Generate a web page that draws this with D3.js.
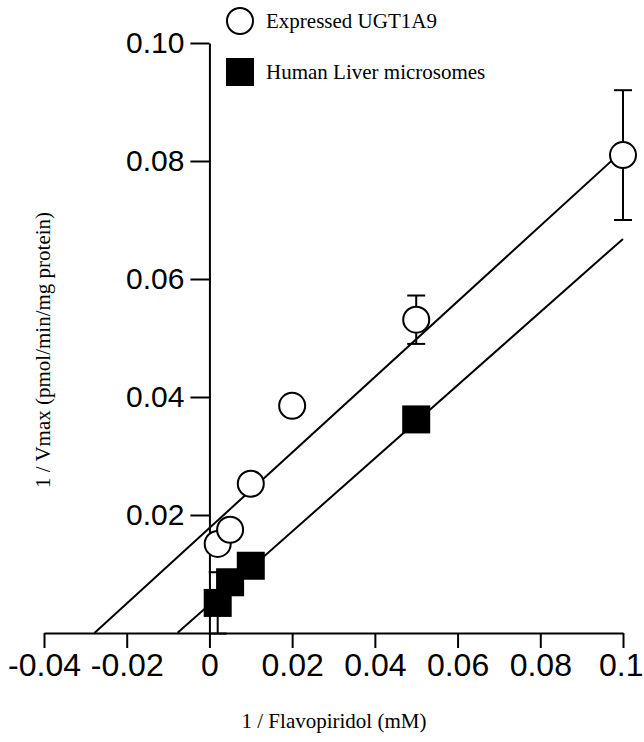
<!DOCTYPE html>
<html>
<head>
<meta charset="utf-8">
<script src="https://cdn.jsdelivr.net/npm/d3@7"></script>
<style>
  body { margin: 0; background: #fff; }
  svg { display: block; }
</style>
</head>
<body>
<div id="graph"></div>
<script>
// values
let xTicks = [-0.04, -0.02, 0, 0.02, 0.04, 0.06, 0.08, 0.1]
let xTickLabels = ['-0.04', '-0.02', '0', '0.02', '0.04', '0.06', '0.08', '0.1']
let yTicks = [0.02, 0.04, 0.06, 0.08, 0.10]
let yTickLabels = ['0.02', '0.04', '0.06', '0.08', '0.10']

// Expressed UGT1A9 (open circles)
let ugtX = [0.002, 0.005, 0.01, 0.02, 0.05, 0.1]
let ugtY = [0.0151, 0.0175, 0.0253, 0.0385, 0.0531, 0.081]
let ugtErr = [0, 0, 0, 0, 0.0041, 0.011]

// Human liver microsomes (filled squares)
let hlmX = [0.002, 0.005, 0.01, 0.05]
let hlmY = [0.0051, 0.0086, 0.0114, 0.0362]
let hlmErr = [0.0052, 0, 0, 0]

// fitted lines: [x start, x end], intercept, slope
let ugtFit = { x: [-0.0278, 0.1], b: 0.0178, m: 0.64 }
let hlmFit = { x: [-0.0077, 0.1], b: 0.0048, m: 0.62 }

let width = 644, height = 742

let svg = d3.select('#graph')
    .append('svg')
    .attr('width', width)
    .attr('height', height)

let x = d3.scaleLinear().domain([-0.04, 0.1]).range([44, 623])
let y = d3.scaleLinear().domain([0, 0.10]).range([633, 43])

let axisFont = '"Liberation Sans", Arial, sans-serif'
let serif = '"Liberation Serif", "Times New Roman", serif'

// x axis
let xAxis = svg.append('g')
    .attr('transform', `translate(0,${y(0)})`)
    .call(d3.axisBottom(x)
        .tickValues(xTicks)
        .tickFormat((d, i) => xTickLabels[i])
        .tickSize(15)
        .tickPadding(5)
        .tickSizeOuter(0))
xAxis.select('.domain').attr('stroke-width', 2)
xAxis.selectAll('.tick line').attr('stroke-width', 2)
xAxis.selectAll('.tick text')
    .attr('font-family', axisFont)
    .attr('font-size', 32)
    .attr('fill', '#000')
// last label sits against the right edge of the figure
xAxis.selectAll('.tick text')
    .filter(d => d === 0.1)
    .attr('text-anchor', 'end')
    .attr('dx', 20)

// y axis
let yAxis = svg.append('g')
    .attr('transform', `translate(${x(0)},0)`)
    .call(d3.axisLeft(y)
        .tickValues(yTicks)
        .tickFormat((d, i) => yTickLabels[i])
        .tickSize(19)
        .tickPadding(6)
        .tickSizeOuter(0))
yAxis.select('.domain').attr('stroke-width', 2)
yAxis.selectAll('.tick line').attr('stroke-width', 2)
yAxis.selectAll('.tick text')
    .attr('font-family', axisFont)
    .attr('font-size', 30)
    .attr('fill', '#000')

// axis titles
svg.append('text')
    .attr('x', 334)
    .attr('y', 728)
    .attr('text-anchor', 'middle')
    .attr('font-family', serif)
    .attr('font-size', 21)
    .text('1 / Flavopiridol (mM)')

svg.append('text')
    .attr('transform', `translate(50,350) rotate(-90)`)
    .attr('text-anchor', 'middle')
    .attr('font-family', serif)
    .attr('font-size', 21)
    .text('1 / Vmax (pmol/min/mg protein)')

// regression lines
let plot = svg.append('g')
;[ugtFit, hlmFit].forEach(f => {
    plot.append('line')
        .attr('x1', x(f.x[0]))
        .attr('y1', y(f.b + f.m * f.x[0]))
        .attr('x2', x(f.x[1]))
        .attr('y2', y(f.b + f.m * f.x[1]))
        .attr('stroke', '#000')
        .attr('stroke-width', 2)
})

// error bars
function errorBars(xs, ys, errs) {
    xs.forEach((xv, i) => {
        if (!errs[i]) return
        let g = plot.append('g').attr('stroke', '#000').attr('stroke-width', 2)
        g.append('line')
            .attr('x1', x(xv)).attr('x2', x(xv))
            .attr('y1', y(ys[i] - errs[i])).attr('y2', y(ys[i] + errs[i]))
        ;[-1, 1].forEach(s => {
            g.append('line')
                .attr('x1', x(xv) - 9).attr('x2', x(xv) + 9)
                .attr('y1', y(ys[i] + s * errs[i])).attr('y2', y(ys[i] + s * errs[i]))
        })
    })
}
errorBars(ugtX, ugtY, ugtErr)
errorBars(hlmX, hlmY, hlmErr)

// squares
let sq = 28
plot.selectAll('rect.hlm')
    .data(hlmX)
    .join('rect')
    .attr('class', 'hlm')
    .attr('x', (d, i) => x(d) - sq / 2)
    .attr('y', (d, i) => y(hlmY[i]) - sq / 2)
    .attr('width', sq)
    .attr('height', sq)
    .attr('fill', '#000')

// circles
plot.selectAll('circle.ugt')
    .data(ugtX)
    .join('circle')
    .attr('class', 'ugt')
    .attr('cx', d => x(d))
    .attr('cy', (d, i) => y(ugtY[i]))
    .attr('r', 13)
    .attr('fill', '#fff')
    .attr('stroke', '#000')
    .attr('stroke-width', 2)

// legend
let legend = svg.append('g')
legend.append('circle')
    .attr('cx', 240).attr('cy', 21).attr('r', 13)
    .attr('fill', '#fff').attr('stroke', '#000').attr('stroke-width', 2)
legend.append('text')
    .attr('x', 266).attr('y', 28)
    .attr('font-family', serif).attr('font-size', 21)
    .text('Expressed UGT1A9')
legend.append('rect')
    .attr('x', 226).attr('y', 58).attr('width', 28).attr('height', 28)
    .attr('fill', '#000')
legend.append('text')
    .attr('x', 266).attr('y', 79)
    .attr('font-family', serif).attr('font-size', 21)
    .text('Human Liver microsomes')
</script>
</body>
</html>
